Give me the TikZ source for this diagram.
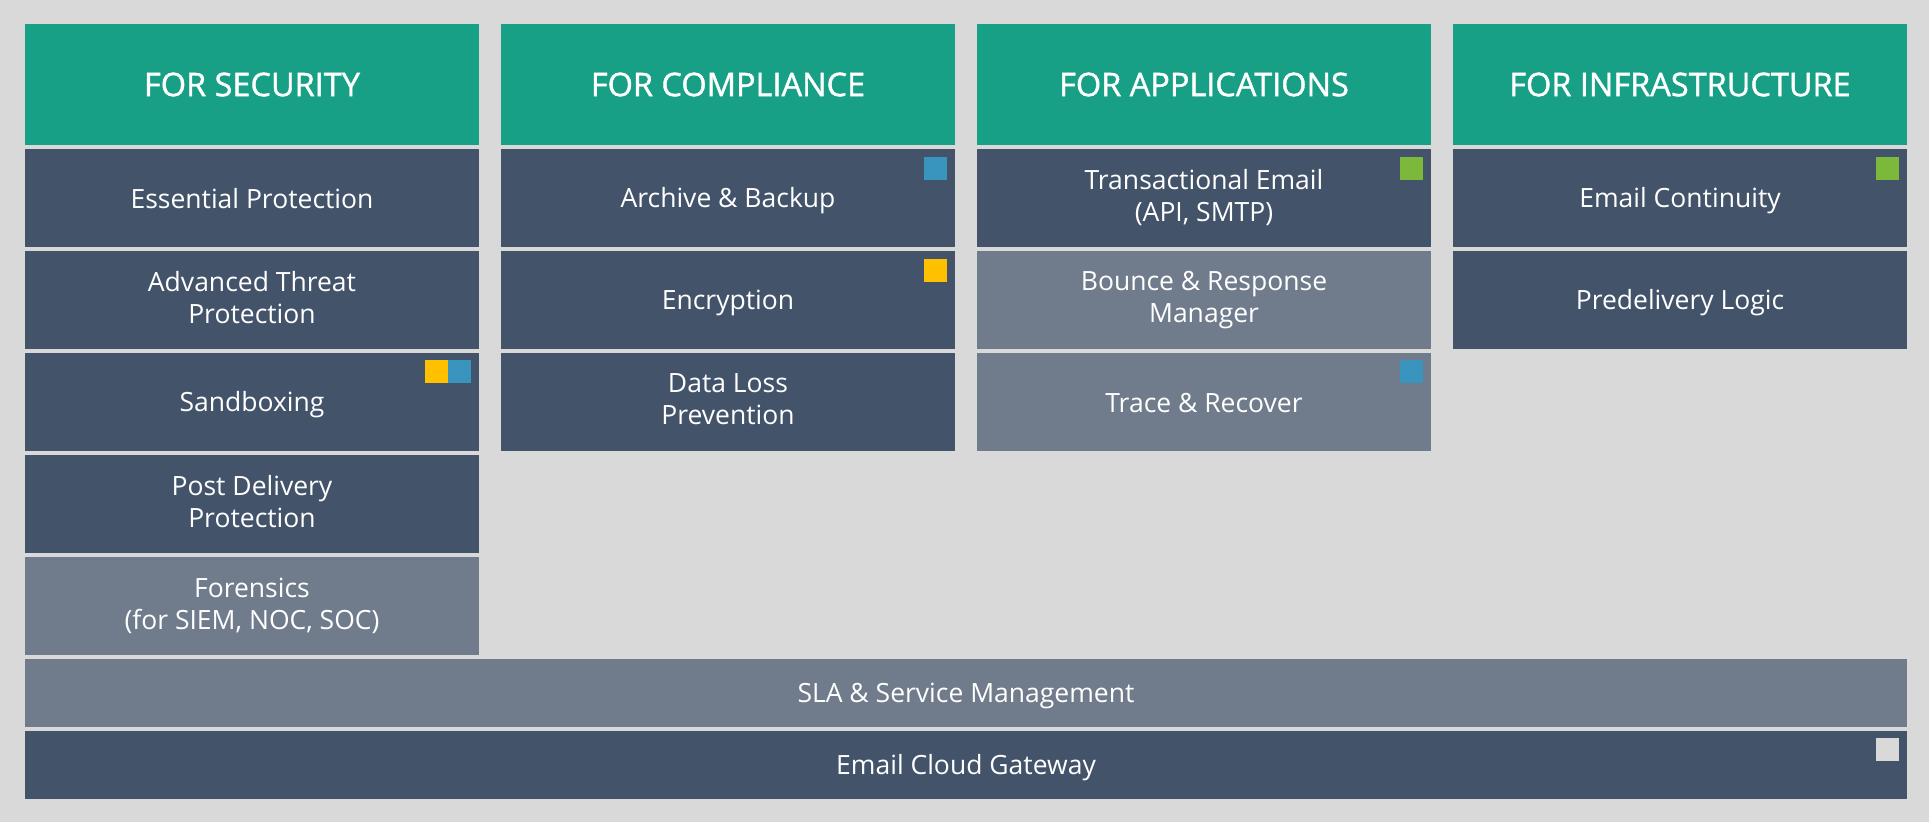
\documentclass[tikz,border=0pt]{standalone}
\usepackage{fontspec}
\setmainfont{Open Sans}
\newfontfamily\headfont{Open Sans}[FakeBold=1.2]
\usetikzlibrary{positioning}

\definecolor{bggray}{HTML}{D9D9D9}
\definecolor{headgreen}{HTML}{18A086}
\definecolor{tiledark}{HTML}{43536A}
\definecolor{tilepale}{HTML}{707B8B}
\definecolor{tagblue}{HTML}{3A95BE}
\definecolor{tagyellow}{HTML}{FFC000}
\definecolor{taggreen}{HTML}{7BB83B}

\newcommand\tilestrut{\rule[-5pt]{0pt}{31pt}}
\newcommand\tileendstrut{\rule{0pt}{20pt}}

\tikzset{
  head/.style={fill=headgreen, text=white, minimum width=454pt, minimum height=121pt,
    inner sep=0pt, outer sep=0pt, font=\headfont\fontsize{32.5}{38}\selectfont},
  tile/.style={fill=tiledark, text=white, minimum width=454pt, minimum height=98pt,
    inner sep=0pt, outer sep=0pt, align=center, font=\fontsize{26.5}{32}\selectfont,
    execute at begin node=\tilestrut, execute at end node=\tileendstrut},
  pale/.style={tile, fill=tilepale},
  band/.style={tile, minimum width=1882pt, minimum height=68pt},
  tag/.style={minimum size=23pt, inner sep=0pt, outer sep=0pt}
}

\begin{document}
\begin{tikzpicture}[node distance = 4pt]
  \fill[bggray] (0pt,0pt) rectangle (1929pt,-822pt);
  \useasboundingbox (0pt,0pt) rectangle (1929pt,-822pt);

  % headers
  \node[head, anchor=north west] (sec) at (25pt,-24pt) {FOR SECURITY};
  \node[head] (comp) [right=22pt of sec] {FOR COMPLIANCE};
  \node[head] (app) [right=22pt of comp] {FOR APPLICATIONS};
  \node[head] (infra) [right=22pt of app] {FOR INFRASTRUCTURE};

  % security
  \node[tile] (ess) [below=of sec] {Essential Protection};
  \node[tile] (atp) [below=of ess] {Advanced Threat\\Protection};
  \node[tile] (sand) [below=of atp] {Sandboxing};
  \node[tile] (post) [below=of sand] {Post Delivery\\Protection};
  \node[pale] (fore) [below=of post] {Forensics\\(for SIEM, NOC, SOC)};

  % compliance
  \node[tile] (arch) [below=of comp] {Archive \& Backup};
  \node[tile] (enc) [below=of arch] {Encryption};
  \node[tile] (dlp) [below=of enc] {Data Loss\\Prevention};

  % applications
  \node[tile] (trans) [below=of app] {Transactional Email\\(API, SMTP)};
  \node[pale] (bounce) [below=of trans] {Bounce \& Response\\Manager};
  \node[pale] (trace) [below=of bounce] {Trace \& Recover};

  % infrastructure
  \node[tile] (cont) [below=of infra] {Email Continuity};
  \node[tile] (pre) [below=of cont] {Predelivery Logic};

  % bottom bands
  \node[band, fill=tilepale, anchor=north west] (sla) [below right=4pt and 0pt of fore.south west] {SLA \& Service Management};
  \node[band, anchor=north west] (gw) [below right=4pt and 0pt of sla.south west] {Email Cloud Gateway};

  % tags
  \node[tag, fill=tagblue] (t1) [below left=7pt and 8pt of sand.north east] {};
  \node[tag, fill=tagyellow] (t2) [left=0pt of t1] {};
  \node[tag, fill=tagblue] (t3) [below left=8pt and 8pt of arch.north east] {};
  \node[tag, fill=tagyellow] (t4) [below left=8pt and 8pt of enc.north east] {};
  \node[tag, fill=taggreen] (t5) [below left=8pt and 8pt of trans.north east] {};
  \node[tag, fill=tagblue] (t6) [below left=7pt and 8pt of trace.north east] {};
  \node[tag, fill=taggreen] (t7) [below left=8pt and 8pt of cont.north east] {};
  \node[tag, fill=bggray] (t8) [below left=7pt and 8pt of gw.north east] {};
\end{tikzpicture}
\end{document}
